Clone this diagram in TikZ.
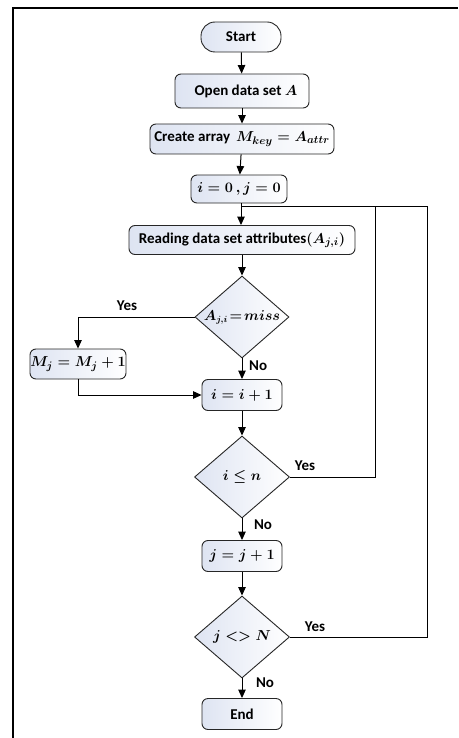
\documentclass[tikz,border=0pt]{standalone}
\usepackage{fontspec}
\setmainfont{Carlito}
\usetikzlibrary{arrows.meta,shapes.geometric}
\definecolor{boxblue}{RGB}{222,228,242}
\tikzset{
  box/.style={draw=black!85, line width=0.9pt, rounded corners=6pt, left color=boxblue, right color=white,
              inner sep=0pt, font=\bfseries\fontsize{15}{17}\selectfont\boldmath},
  term/.style={box, rounded corners=14pt},
  dia/.style={draw=black!85, line width=0.9pt, diamond, left color=boxblue, right color=white, inner sep=0pt},
  lbl/.style={font=\bfseries\fontsize{15}{17}\selectfont\boldmath, inner sep=0pt},
  tag/.style={font=\bfseries\fontsize{15}{17}\selectfont, inner sep=0pt},
  conn/.style={line width=1pt, -{Triangle[length=8.5pt,width=7.5pt]}},
  line/.style={line width=1pt},
}
\begin{document}
\begin{tikzpicture}[x=1pt,y=-1pt]
\useasboundingbox (0,0) rectangle (458,738);
\draw[line width=1.4pt] (13,738) -- (13,8) -- (458,8);

\node[term, minimum width=80pt, minimum height=30pt] (start) at (241,37) {Start};
\node[box, minimum width=134pt, minimum height=34pt] (open) at (242,91) {\hspace{8pt}Open data set $A$};
\node[box, minimum width=184pt, minimum height=30pt] (create) at (242,139) {Create array\, $M_{key}=A_{attr}$};
\node[box, minimum width=96pt, minimum height=28pt] (init) at (239,189) {$i=0\,,j=0$};
\node[box, minimum width=226pt, minimum height=29pt] (read) at (242,240) {Reading data set attributes$(A_{j,i})$};

\node[dia, minimum width=94pt, minimum height=82pt] (d1) at (242,317) {};
\node[lbl, font=\bfseries\fontsize{13.5}{16}\selectfont\boldmath] (d1t) at (242,317) {$A_{j,i}\!=\!miss$};

\node[box, minimum width=96pt, minimum height=30pt] (mj) at (78,364) {$M_j=M_j+1$};
\node[box, minimum width=80pt, minimum height=31pt] (inc) at (242,395) {$i=i+1$};

\node[dia, minimum width=95pt, minimum height=82pt] (d2) at (242,477) {};
\node[lbl] (d2t) at (242,477) {$i\le n$};

\node[box, minimum width=80pt, minimum height=31pt] (jinc) at (242,556) {$j=j+1$};

\node[dia, minimum width=95pt, minimum height=82pt] (d3) at (242,637) {};
\node[lbl] (d3t) at (242,637) {$j<>N$};

\node[box, minimum width=80pt, minimum height=31pt] (end) at (242,714) {End};

\coordinate (j0) at (241,206);
\coordinate (c1) at (375,206);
\coordinate (c2) at (427,206);

\draw[conn] (start) -- (open);
\draw[conn] (open) -- (create);
\draw[conn] (create) -- (init);
\draw[conn] (init.south -| j0) -- (read.north -| j0);
\draw[conn] (read.south -| d1) -- (d1.north);
\draw[conn] (d1.west) -| (mj.north);
\draw[conn] (d1.south) -- (inc.north);
\draw[conn] (mj.south) |- (inc.west);
\draw[conn] (inc.south) -- (d2.north);
\draw[conn] (d2.south) -- (jinc.north);
\draw[conn] (jinc.south) -- (d3.north);
\draw[conn] (d3.south) -- (end.north);
\draw[line] (d2.east) -| (c1) -- (j0);
\draw[line] (d3.east) -| (c2) -- (c1);

\node[tag] (y1) at (127,306) {Yes};
\node[tag, anchor=west] (n1) at (249,366) {No};
\node[tag] (y2) at (305,466) {Yes};
\node[tag] (n2) at (263,525) {No};
\node[tag] (y3) at (315,627) {Yes};
\node[tag] (n3) at (265,683) {No};
\end{tikzpicture}
\end{document}
